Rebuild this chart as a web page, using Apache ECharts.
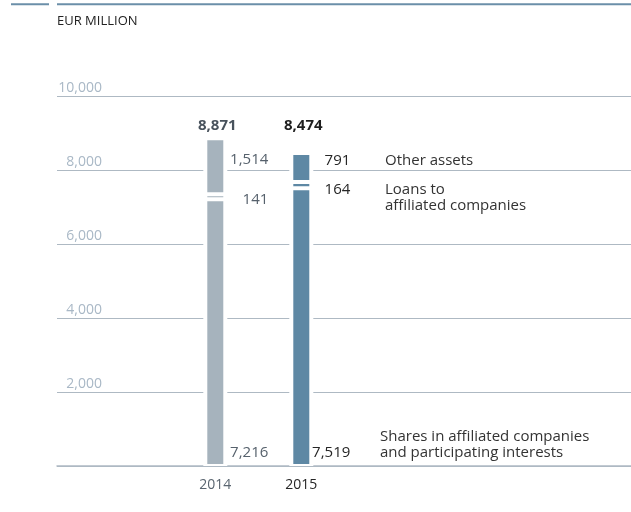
<!DOCTYPE html>
<html><head><meta charset="utf-8">
<script src="https://cdn.jsdelivr.net/npm/echarts@6/dist/echarts.min.js"></script>
<style>html,body{margin:0;padding:0;background:#fff}#c{width:631px;height:512px}</style>
</head><body><div id="c"></div>
<script>
// ---- data ----
const categories = ['2014', '2015'];
const shares = [7216, 7519];
const loans = [141, 164];
const other = [1514, 791];
const totals = [8871, 8474];
const yMin = 0, yMax = 10000, yStep = 2000;
const unitTitle = 'EUR MILLION';
const seriesNames = ['Other assets', 'Loans to\naffiliated companies', 'Shares in affiliated companies\nand participating interests'];

// ---- styles ----
const FONT = 'Open Sans';
const barColors = ['#a6b3bd', '#5e88a4'];
const valueColors = ['#56616c', '#262626'];
const totalColors = ['#48525c', '#1e1e1e'];
const gridColor = '#aeb9c3';
const valDist = [43, 39];
const otherDy = [-6, -7];
const loansDy = [3, 5];
const sharesDx = [53, 49];
const totalDist = [5, 20];

const fmt = v => v.toLocaleString('en-US');

function items(vals, labelFn) {
  return vals.map((v, i) => ({
    value: v,
    itemStyle: { color: barColors[i] },
    label: Object.assign({ color: valueColors[i] }, labelFn(i))
  }));
}

const base = { type: 'bar', xAxisIndex: 1, yAxisIndex: 1, barWidth: 20, z: 3,
  itemStyle: { borderColor: '#ffffff', borderWidth: 2 },
  label: { show: true, fontFamily: FONT, fontSize: 15, formatter: p => fmt(p.value) } };

const gridBox = { top: 96.5, bottom: 46 };
const chart = echarts.init(document.getElementById('c'), null, { renderer: 'canvas' });
chart.setOption({
  animation: false,
  backgroundColor: '#ffffff',
  textStyle: { fontFamily: FONT },
  grid: [
    Object.assign({ left: 57, right: 0 }, gridBox),
    Object.assign({ left: 172.3, width: 172 }, gridBox),
    Object.assign({ left: 172.3, width: 172 }, gridBox)
  ],
  xAxis: [
    { gridIndex: 0, type: 'value', min: 0, max: 1, axisLabel: { show: false }, axisTick: { show: false },
      splitLine: { show: false }, axisLine: { show: true, lineStyle: { color: gridColor, width: 1.5 } } },
    { gridIndex: 1, type: 'category', data: categories, axisLine: { show: false }, axisTick: { show: false },
      axisLabel: { margin: 12, fontSize: 14, fontFamily: FONT, color: (v, i) => i === 0 ? '#5a6570' : '#262626' } },
    { gridIndex: 2, type: 'category', data: categories, show: false }
  ],
  yAxis: [
    { gridIndex: 0, type: 'value', min: yMin, max: yMax, interval: yStep,
      axisLine: { show: false }, axisTick: { show: false },
      splitLine: { lineStyle: { color: gridColor, width: 1 } },
      axisLabel: { inside: true, margin: 45, align: 'right', verticalAlign: 'bottom', padding: [0, 0, 1, 0],
        fontSize: 14, fontFamily: FONT, color: '#a9b8c6', formatter: v => v === 0 ? '' : fmt(v) } },
    { gridIndex: 1, type: 'value', min: yMin, max: yMax, interval: yStep, show: false, splitLine: { show: false } },
    { gridIndex: 2, type: 'value', min: yMin, max: yMax, interval: yStep, show: false, splitLine: { show: false } }
  ],
  series: [
    { type: 'bar', name: 'total', xAxisIndex: 2, yAxisIndex: 2, barWidth: 24, z: 1,
      itemStyle: { color: '#ffffff', borderWidth: 0 },
      data: totals.map((v, i) => ({ value: v, label: { show: true, position: 'top', distance: totalDist[i],
        formatter: p => fmt(p.value), fontFamily: FONT, fontSize: 15, fontWeight: 'bold', color: totalColors[i], offset: [2, 0] } })) },
    Object.assign({}, base, { name: 'shares', stack: 's',
      data: items(shares, i => ({ position: 'insideBottom', distance: 5.5, align: 'right', verticalAlign: 'bottom', offset: [sharesDx[i], 0] })) }),
    Object.assign({}, base, { name: 'loans', stack: 's',
      data: items(loans, i => ({ position: 'right', distance: valDist[i], align: 'right', offset: [0, loansDy[i]] })) }),
    Object.assign({}, base, { name: 'other', stack: 's',
      data: items(other, i => ({ position: 'right', distance: valDist[i], align: 'right', offset: [0, otherDy[i]] })) })
  ],
  graphic: [
    { type: 'line', shape: { x1: 11, y1: 4.3, x2: 49, y2: 4.3 }, style: { stroke: '#6b8fa9', lineWidth: 2 } },
    { type: 'line', shape: { x1: 57, y1: 4.3, x2: 631, y2: 4.3 }, style: { stroke: '#6b8fa9', lineWidth: 2 } },
    { type: 'text', left: 57, top: 15, style: { text: unitTitle, font: '13px "' + FONT + '"', fill: '#222' } },
    { type: 'text', x: 385, y: 160.5, style: { text: seriesNames[0], font: '15px "' + FONT + '"', fill: '#333', verticalAlign: 'middle' } },
    { type: 'text', x: 385, y: 181, style: { text: seriesNames[1], font: '15px "' + FONT + '"', fill: '#333', lineHeight: 16.5, verticalAlign: 'top' } },
    { type: 'text', x: 380, y: 428, style: { text: seriesNames[2], font: '15px "' + FONT + '"', fill: '#333', lineHeight: 16.5, verticalAlign: 'top' } }
  ]
});
</script></body></html>
